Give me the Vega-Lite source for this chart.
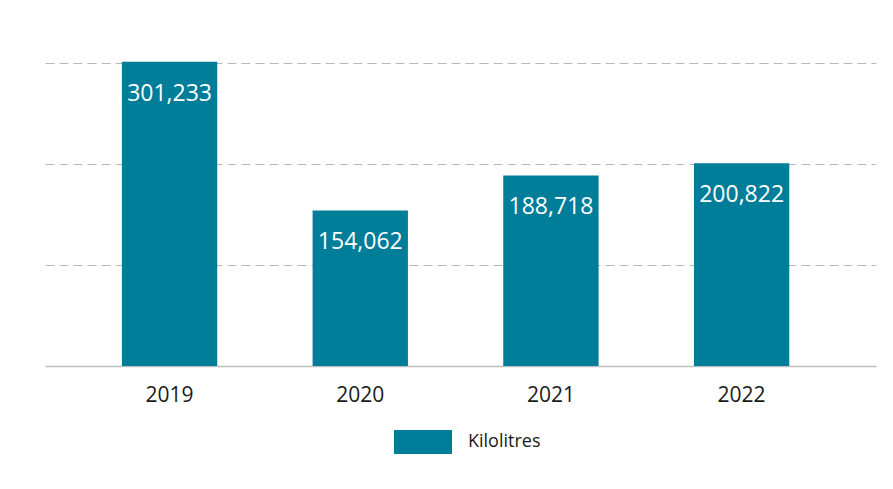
{
  "$schema": "https://vega.github.io/schema/vega-lite/v6.json",
  "autosize": {"type": "none"},
  "width": 831,
  "height": 303,
  "padding": {"left": 45, "top": 63, "right": 17, "bottom": 123},
  "background": "white",
  "data": {
    "values": [
      {"year": "2019", "value": 301233, "series": "Kilolitres"},
      {"year": "2020", "value": 154062, "series": "Kilolitres"},
      {"year": "2021", "value": 188718, "series": "Kilolitres"},
      {"year": "2022", "value": 200822, "series": "Kilolitres"}
    ]
  },
  "encoding": {
    "x": {
      "field": "year",
      "type": "nominal",
      "scale": {"paddingInner": 0.5, "paddingOuter": 0.429, "align": 0.47},
      "axis": {
        "title": null,
        "labelAngle": 0,
        "ticks": false,
        "labelPadding": 18,
        "labelFont": "Open Sans",
        "labelFontSize": 21,
        "labelColor": "#1a1a1a",
        "domainColor": "#bfbfbf",
        "domainWidth": 1.5
      }
    },
    "y": {
      "field": "value",
      "type": "quantitative",
      "scale": {"domain": [0, 300000], "nice": false},
      "axis": {
        "title": null,
        "labels": false,
        "ticks": false,
        "domain": false,
        "values": [100000, 200000, 300000],
        "grid": true,
        "gridColor": "#b8b8b8",
        "gridDash": [9, 5],
        "gridWidth": 1.2
      }
    }
  },
  "layer": [
    {
      "mark": {"type": "bar", "clip": false},
      "encoding": {
        "color": {
          "field": "series",
          "type": "nominal",
          "scale": {"range": ["#007d99"]},
          "legend": {
            "title": null,
            "orient": "none",
            "legendX": 349,
            "legendY": 350,
            "padding": 0,
            "symbolType": "M-1,-0.414L1,-0.414L1,0.414L-1,0.414Z",
            "symbolSize": 3364,
            "symbolStrokeWidth": 0,
            "symbolOpacity": 1,
            "labelFont": "Open Sans",
            "labelFontSize": 18,
            "labelColor": "#1a1a1a",
            "labelOffset": 16
          }
        }
      }
    },
    {
      "mark": {
        "type": "text",
        "color": "white",
        "font": "Open Sans",
        "fontSize": 23,
        "baseline": "middle",
        "dy": 32
      },
      "encoding": {
        "text": {"field": "value", "type": "quantitative", "format": ","}
      }
    }
  ],
  "config": {"view": {"stroke": null}}
}
